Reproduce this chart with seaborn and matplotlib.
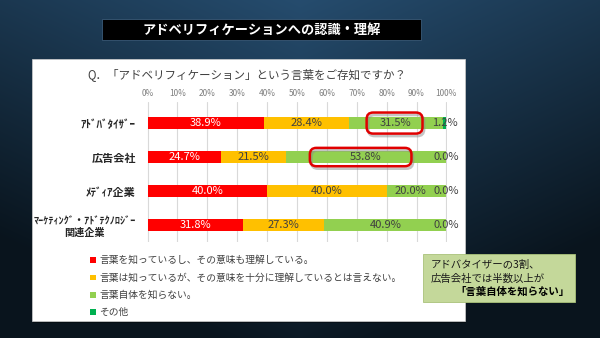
import numpy as np
import pandas as pd
import matplotlib
matplotlib.use("Agg")
import matplotlib.pyplot as plt
import seaborn as sns
from matplotlib.patches import Rectangle, FancyBboxPatch

# ---------------- data ----------------
categories = ["ｱﾄﾞﾊﾞﾀｲｻﾞｰ", "広告会社", "ﾒﾃﾞｨｱ企業", "ﾏｰｹﾃｨﾝｸﾞ・ｱﾄﾞﾃｸﾉﾛｼﾞｰ\n関連企業"]
series_names = [
    "言葉を知っているし、その意味も理解している。",
    "言葉は知っているが、その意味を十分に理解しているとは言えない。",
    "言葉自体を知らない。",
    "その他",
]
know_understand = [38.9, 24.7, 40.0, 31.8]
know_not_fully = [28.4, 21.5, 40.0, 27.3]
dont_know = [31.5, 53.8, 20.0, 40.9]
other = [1.2, 0.0, 0.0, 0.0]
x_ticks = list(range(0, 101, 10))
x_tick_labels = [f"{t}%" for t in x_ticks]

title = "アドベリフィケーションへの認識・理解"
question = "Q．「アドベリフィケーション」という言葉をご存知ですか？"
callout_lines = ["アドバタイザーの3割、", "広告会社では半数以上が", "「言葉自体を知らない」"]

colors = ["#FF0000", "#FFC000", "#92D050", "#00B050"]
label_colors = ["white", "#404040", "#404040", "#404040"]

# ---------------- style ----------------
sns.set_style("white")
plt.rcParams["font.family"] = ["Noto Sans CJK JP", "DejaVu Sans"]

W, H = 600, 338
fig = plt.figure(figsize=(6.0, 3.38), dpi=100)

# background layer in pixel coordinates
bg = fig.add_axes([0, 0, 1, 1], zorder=-5)
bg.set_xlim(0, W)
bg.set_ylim(H, 0)
bg.axis("off")
yy, xx = np.mgrid[0:H, 0:W]
m = np.clip(0.05 + 0.85 * (yy / H) + 0.35 * np.abs(xx - 300) / 300, 0, 1)[..., None]
top = np.array([0x27, 0x4f, 0x72]) / 255
bot = np.array([0x09, 0x14, 0x1d]) / 255
grad = top * (1 - m) + bot * m
bg.imshow(grad, extent=[0, W, H, 0], aspect="auto", zorder=0)

# title bar
bg.add_patch(Rectangle((102, 19), 319, 21, facecolor="black", edgecolor="#3a5a78", lw=0.6, zorder=2))
bg.text(261.5, 30, title, color="white", fontsize=9.5, fontweight="bold", ha="center", va="center", zorder=3)

# white panel
bg.add_patch(Rectangle((33, 61), 433, 262, facecolor="#000000", alpha=0.35, lw=0, zorder=1))
bg.add_patch(Rectangle((32, 59), 433, 262, facecolor="white", edgecolor="#d0d0d0", lw=0.5, zorder=2))
bg.text(87, 75, question, color="#404040", fontsize=8.3, ha="left", va="center", zorder=3)

# legend
for i, (name, c) in enumerate(zip(series_names, colors)):
    y = 260 + i * 17.4
    bg.add_patch(Rectangle((90, y - 2.8), 5.6, 5.6, facecolor=c, lw=0, zorder=3))
    bg.text(99, y, name, color="#404040", fontsize=7, ha="left", va="center", zorder=3)

# ---------------- main chart ----------------
ax = fig.add_axes([147 / W, 1 - 242 / H, 300 / W, 140 / H], zorder=1)
ax.set_facecolor("none")

series = [know_understand, know_not_fully, dont_know, other]
cum = np.cumsum(np.array(series), axis=0)  # cumulative right edges
df = pd.DataFrame({"category": categories})
for j in range(len(series)):
    df[f"cum{j}"] = cum[j]

# draw from the longest cumulative bar to the shortest
for j in reversed(range(len(series))):
    sns.barplot(data=df, x=f"cum{j}", y="category", orient="h", color=colors[j],
                saturation=1, width=0.37, linewidth=0, ax=ax, zorder=2)

ax.set_xlim(-0.2, 100.2)
ax.set_ylim(3.5, -0.62)
ax.set_xticks(x_ticks)
ax.set_xticklabels(x_tick_labels)
ax.xaxis.tick_top()
ax.tick_params(axis="x", length=0, pad=3, labelsize=6, labelcolor="#7f7f7f")
ax.tick_params(axis="y", length=0, pad=8)
ax.grid(axis="x", color="#D9D9D9", lw=0.8, zorder=0)
ax.set_axisbelow(True)
for s in ax.spines.values():
    s.set_visible(False)
ax.set_xlabel("")
ax.set_ylabel("")
for i, lab in enumerate(ax.get_yticklabels()):
    lab.set_fontweight("bold")
    lab.set_color("#262626")
    lab.set_multialignment("center")
    lab.set_fontsize(7.3 if "\n" in categories[i] else 8)

# data labels (centered in segment; pushed left when crowded)
min_gap = 12.0
for i in range(len(categories)):
    lefts = [0.0] + [cum[j - 1][i] for j in range(1, len(series))]
    centers = [lefts[j] + series[j][i] / 2 for j in range(len(series))]
    for j in range(len(series) - 2, -1, -1):
        if centers[j] > centers[j + 1] - min_gap and series[j + 1][i] < 5:
            centers[j] = centers[j + 1] - min_gap
    for j in range(len(series)):
        ax.text(centers[j], i, f"{series[j][i]:.1f}%", color=label_colors[j],
                fontsize=8, ha="center", va="center", zorder=4, clip_on=False)

# highlight boxes (annotation shapes)
hl_boxes = [(0, 73.3, 92.0, 0.31), (1, 54.3, 88.3, 0.27)]
asp = 3.0 / 34.0
for row, x0, x1, hh in hl_boxes:
    sh = FancyBboxPatch((x0 + 0.5, row - hh + 0.07), x1 - x0, 2 * hh,
                        boxstyle="round,pad=0,rounding_size=2.2", mutation_aspect=asp,
                        facecolor="none", edgecolor="#8c8c8c", lw=2.0, alpha=0.5, zorder=5, clip_on=False)
    ax.add_patch(sh)
    bx = FancyBboxPatch((x0, row - hh), x1 - x0, 2 * hh,
                        boxstyle="round,pad=0,rounding_size=2.2", mutation_aspect=asp,
                        facecolor="none", edgecolor="#E00000", lw=1.8, zorder=6, clip_on=False)
    ax.add_patch(bx)

# callout box
top_ax = fig.add_axes([0, 0, 1, 1], zorder=3)
top_ax.set_xlim(0, W)
top_ax.set_ylim(H, 0)
top_ax.axis("off")
top_ax.add_patch(Rectangle((423, 254), 152, 48, facecolor="#C4D89A", edgecolor="#a9c27a", lw=0.6))
top_ax.text(431, 265, callout_lines[0], fontsize=7.5, color="#1a1a1a", ha="left", va="center")
top_ax.text(431, 278.5, callout_lines[1], fontsize=7.5, color="#1a1a1a", ha="left", va="center")
top_ax.text(569, 292, callout_lines[2], fontsize=7.5, color="#000000", fontweight="bold", ha="right", va="center")

fig.savefig("out.png", dpi=100)
